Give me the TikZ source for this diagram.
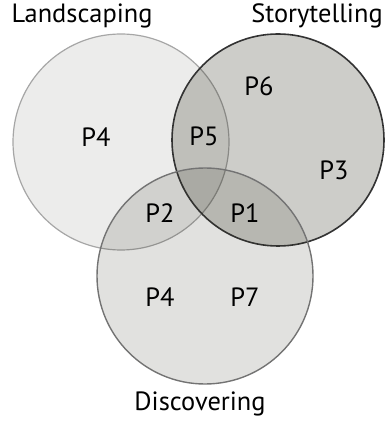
\documentclass[tikz,border=0pt]{standalone}
\usepackage{fontspec}
\setmainfont{PT Sans}
\definecolor{venngray}{RGB}{45,45,30}
\tikzset{
  lbl/.style={font=\fontsize{13.2}{15}\selectfont, text=black, inner sep=0pt},
}
\begin{document}
\begin{tikzpicture}[x=0.5pt,y=-0.5pt]
\useasboundingbox (0,0) rectangle (384,421);
% circles
\fill[venngray, fill opacity=.09](121,142) circle (108);
\draw[line width=.6pt, black!35](121,142) circle (108);
\fill[venngray, fill opacity=.24](278,140) circle (106);
\draw[line width=.8pt, black!80](278,140) circle (106);
\fill[venngray, fill opacity=.14](205,276) circle (108);
\draw[line width=.7pt, black!55](205,276) circle (108);
% titles
\node[lbl](land) at (82,16){Landscaping};
\node[lbl](story) at (317,16){Storytelling};
\node[lbl](disc) at (200,404){Discovering};
% regions
\node[lbl](pfourA) at (96,137){P4};
\node[lbl](pfive) at (204,136){P5};
\node[lbl](psix) at (259,86){P6};
\node[lbl](pthree) at (334,170){P3};
\node[lbl](ptwo) at (160,213){P2};
\node[lbl](pone) at (245,213){P1};
\node[lbl](pfourB) at (160,297){P4};
\node[lbl](pseven) at (245,297){P7};
\end{tikzpicture}
\end{document}
